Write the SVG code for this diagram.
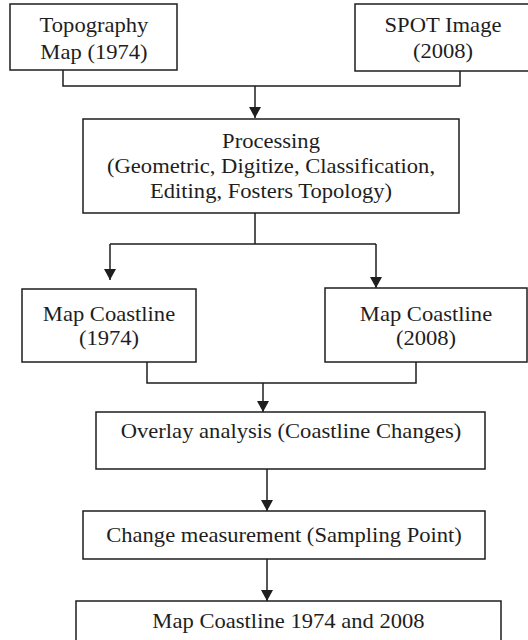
<svg xmlns="http://www.w3.org/2000/svg" width="528" height="640" viewBox="0 0 528 640">
<style>
.box{fill:#fff;stroke:#1e1e1e;stroke-width:1.5}
.t{font-family:"Liberation Serif","Times New Roman",serif;font-size:20px;fill:#1e1e1e;text-anchor:middle}
.c{fill:none;stroke:#1e1e1e;stroke-width:1.5}
</style>
<defs>
<marker id="ah" markerUnits="userSpaceOnUse" markerWidth="11" markerHeight="12" refX="11" refY="6" orient="auto" viewBox="0 0 11 12">
<path d="M0,0 L11,6 L0,12 z" fill="#1e1e1e"/>
</marker>
</defs>
<rect width="528" height="640" fill="#fff"/>
<g id="connectors">
<path class="c" d="M63,70 V86 H460 V71"/>
<path class="c" d="M255,86 V118" marker-end="url(#ah)"/>
<path class="c" d="M255,213 V244 M110,244 H376"/>
<path class="c" d="M110,244 V280" marker-end="url(#ah)"/>
<path class="c" d="M376,244 V288" marker-end="url(#ah)"/>
<path class="c" d="M147,362 V383 H416 V362"/>
<path class="c" d="M263,383 V412" marker-end="url(#ah)"/>
<path class="c" d="M267,469 V511" marker-end="url(#ah)"/>
<path class="c" d="M267,559 V601" marker-end="url(#ah)"/>
</g>
<g id="topography">
<rect class="box" x="10" y="4" width="167" height="66"/>
<text class="t" transform="translate(94 32) scale(1.13 1)">Topography</text>
<text class="t" transform="translate(94 59) scale(1.13 1)">Map (1974)</text>
</g>
<g id="spot">
<rect class="box" x="355" y="4" width="176" height="67"/>
<text class="t" transform="translate(443 32) scale(1.13 1)">SPOT Image</text>
<text class="t" transform="translate(443 58) scale(1.13 1)">(2008)</text>
</g>
<g id="processing">
<rect class="box" x="83" y="119" width="376" height="94"/>
<text class="t" transform="translate(271 148) scale(1.13 1)">Processing</text>
<text class="t" transform="translate(271 173) scale(1.13 1)">(Geometric, Digitize, Classification,</text>
<text class="t" transform="translate(271 198) scale(1.13 1)">Editing, Fosters Topology)</text>
</g>
<g id="coast1974">
<rect class="box" x="22" y="289" width="174" height="73"/>
<text class="t" transform="translate(109 321) scale(1.13 1)">Map Coastline</text>
<text class="t" transform="translate(109 345) scale(1.13 1)">(1974)</text>
</g>
<g id="coast2008">
<rect class="box" x="325" y="288" width="202" height="74"/>
<text class="t" transform="translate(426 321) scale(1.13 1)">Map Coastline</text>
<text class="t" transform="translate(426 345) scale(1.13 1)">(2008)</text>
</g>
<g id="overlay">
<rect class="box" x="96" y="412" width="389" height="57"/>
<text class="t" transform="translate(291 438) scale(1.13 1)">Overlay analysis (Coastline Changes)</text>
</g>
<g id="change">
<rect class="box" x="83" y="511" width="402" height="48"/>
<text class="t" transform="translate(284 542) scale(1.13 1)">Change measurement (Sampling Point)</text>
</g>
<g id="final">
<rect class="box" x="76" y="601" width="425" height="60"/>
<text class="t" transform="translate(288.5 628) scale(1.13 1)">Map Coastline 1974 and 2008</text>
</g>
</svg>
